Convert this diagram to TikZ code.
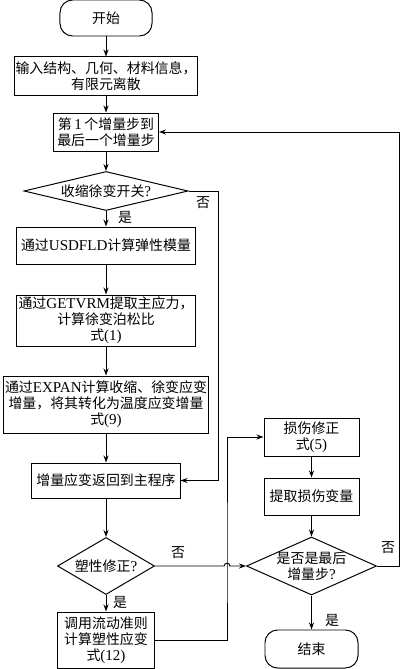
\documentclass[tikz,border=0pt]{standalone}
\usepackage{fontspec}
\setmainfont{Noto Sans CJK SC}
\newfontfamily\latn[Scale=1.08]{Liberation Serif}
\usetikzlibrary{shapes.geometric,arrows.meta}

\begin{document}
\begin{tikzpicture}[x=0.025cm,y=-0.025cm,line width=0.7pt,
  font=\fontsize{9.9}{11.4}\selectfont,
  box/.style={draw,align=center,inner sep=1pt},
  term/.style={draw,rounded corners=9pt},
  dia/.style={draw,diamond,inner sep=0pt},
  arr/.style={-{Stealth[length=5pt,width=3.6pt]}}]
\useasboundingbox (0,0) rectangle (400,669);

% left column
\node[term,minimum width=2.3cm,minimum height=0.9cm] (start) at (106,18) {开始};
\node[box,minimum width=4.575cm,minimum height=0.95cm] (in) at (106,76) {输入结构、几何、材料信息，\\有限元离散};
\node[box,minimum width=2.625cm,minimum height=0.95cm] (loop) at (106,132) {第{\latn\,1\,}个增量步到\\最后一个增量步};
\node[dia,minimum width=4.1cm,minimum height=0.975cm] (chk) at (106,191) {};
\node (chk-t) at (chk) {收缩徐变开关{\latn ?}};
\node[box,minimum width=4.45cm,minimum height=0.925cm] (usd) at (106,245.5) {通过{\latn USDFLD}计算弹性模量};
\node[box,minimum width=4.45cm,minimum height=1.275cm] (get) at (106,320.5) {通过{\latn GETVRM}提取主应力，\\计算徐变泊松比\\式{\latn (1)}};
\node[box,minimum width=5.1cm,minimum height=1.425cm] (exp) at (106,404.5) {通过{\latn EXPAN}计算收缩、徐变应变\\增量，将其转化为温度应变增量\\式{\latn (9)}};
\node[box,minimum width=3.7cm,minimum height=0.875cm] (back) at (106,480.5) {增量应变返回到主程序};
\node[dia,minimum width=2.425cm,minimum height=1.425cm] (plast) at (106,566) {};
\node (plast-t) at (plast) {塑性修正{\latn ?}};
\node[box,minimum width=2.425cm,minimum height=1.4cm] (call) at (106,640) {调用流动准则\\计算塑性应变\\式{\latn (12)}};

% right column
\node[box,minimum width=2.375cm,minimum height=0.95cm] (dmg) at (311.5,437) {损伤修正\\式{\latn (5)}};
\node[box,minimum width=2.375cm,minimum height=0.925cm] (ext) at (311.5,496.5) {提取损伤变量};
\node[dia,minimum width=3.25cm,minimum height=1.45cm] (last) at (311.5,566) {};
\node[align=center] (last-t) at (last) {是否是最后\\增量步{\latn ?}};
\node[term,minimum width=2.325cm,minimum height=0.95cm] (end) at (311.5,649) {结束};

\coordinate (up) at (227,566);

% connectors
\draw[arr] (start) -- (in);
\draw[arr] (in) -- (loop);
\draw[arr] (loop) -- (chk);
\draw[arr] (chk) -- (usd);
\draw[arr] (usd) -- (get);
\draw[arr] (get) -- (exp);
\draw[arr] (exp) -- (back);
\draw[arr] (back) -- (plast);
\draw[arr] (plast) -- (call);
\draw[arr] (chk.east) -- ++(30,0) |- (back.east);
\draw[arr] (call.east) -| (up) |- (dmg.west);
\draw[arr] (plast.east) -- ([xshift=-2pt]up) arc(180:0:2pt) -- (last.west);
\draw[arr] (dmg) -- (ext);
\draw[arr] (ext) -- (last);
\draw[arr] (last) -- (end);
\draw[arr] (last.east) -- ++(22,0) |- (loop.east);

% labels
\node (no1) at (203,203) {否};
\node (yes1) at (125,218) {是};
\node (no2) at (178,553) {否};
\node (yes2) at (120,602) {是};
\node (no3) at (388,548) {否};
\node (yes3) at (332,620) {是};
\end{tikzpicture}
\end{document}
